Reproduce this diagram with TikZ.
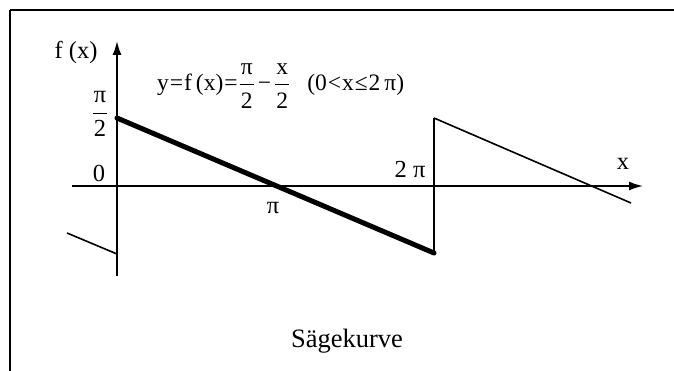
\documentclass[tikz,border=0pt]{standalone}
\usepackage{fontspec}
\setmainfont{Liberation Serif}
\usetikzlibrary{arrows.meta}
\newcommand{\myfrac}[2]{\ensuremath{\displaystyle{\mbox{\kern1pt#1\kern1pt}\above0.9pt\mbox{#2}}}}
\tikzset{
  lbl/.style={inner sep=0pt, font=\fontsize{24.5}{28}\selectfont},
  frm/.style={line width=1.6pt},
  axis/.style={line width=1.6pt, -{Latex[length=14pt,width=9pt]}},
  thickcurve/.style={line width=5pt, line cap=round, line join=round},
  thincurve/.style={line width=1.6pt},
  jump/.style={line width=2.2pt}
}
\begin{document}
\begin{tikzpicture}[x=1pt,y=-1pt]
\useasboundingbox (0,0) rectangle (674,371);
% frame (top and left edges)
\coordinate (fb) at (10,371);
\coordinate (ftl) at (10,10);
\coordinate (fr) at (674,10);
\draw[frm] (ftl) -- (fr);
\draw[frm] (ftl) -- (fb);
% axes
\coordinate (xs) at (72,186);
\coordinate (xe) at (643,186);
\coordinate (ys) at (117,276);
\coordinate (ye) at (117,41);
\draw[axis] (xs) -- (xe);
\draw[axis] (ys) -- (ye);
% saw curve
\coordinate (A) at (117,118);
\coordinate (B) at (434,253);
\coordinate (C) at (434,118);
\coordinate (D) at (631,203);
\coordinate (E) at (67,233);
\coordinate (F) at (117,254);
\draw[thickcurve] (A) -- (B);
\draw[jump] (B) -- (C);
\draw[thincurve] (C) -- (D);
\draw[thincurve] (E) -- (F);
% labels
\node[lbl] (fx) at (76,52) {f (x)};
\node[lbl] (half) at (100,114) {\myfrac{π}{2}};
\node[lbl] (zero) at (99,173) {0};
\node[lbl] (pi) at (273,208) {π};
\node[lbl] (twopi) at (410,170) {2 π};
\node[lbl] (xl) at (623,164) {x};
\node[lbl, anchor=base west, font=\fontsize{23.5}{28}\selectfont] (formula) at (157,91)
  {y\kern1pt=\kern1pt f\,(x)\kern1pt=\kern1pt\myfrac{π}{2}\kern3pt−\kern3pt\myfrac{x}{2}\hspace{17pt}(0\kern1pt<\kern1pt x\kern1pt≤\kern1pt 2\,π)};
\node[inner sep=0pt, anchor=base, font=\fontsize{26.5}{31}\selectfont] (title) at (347,347) {Sägekurve};
\end{tikzpicture}
\end{document}
